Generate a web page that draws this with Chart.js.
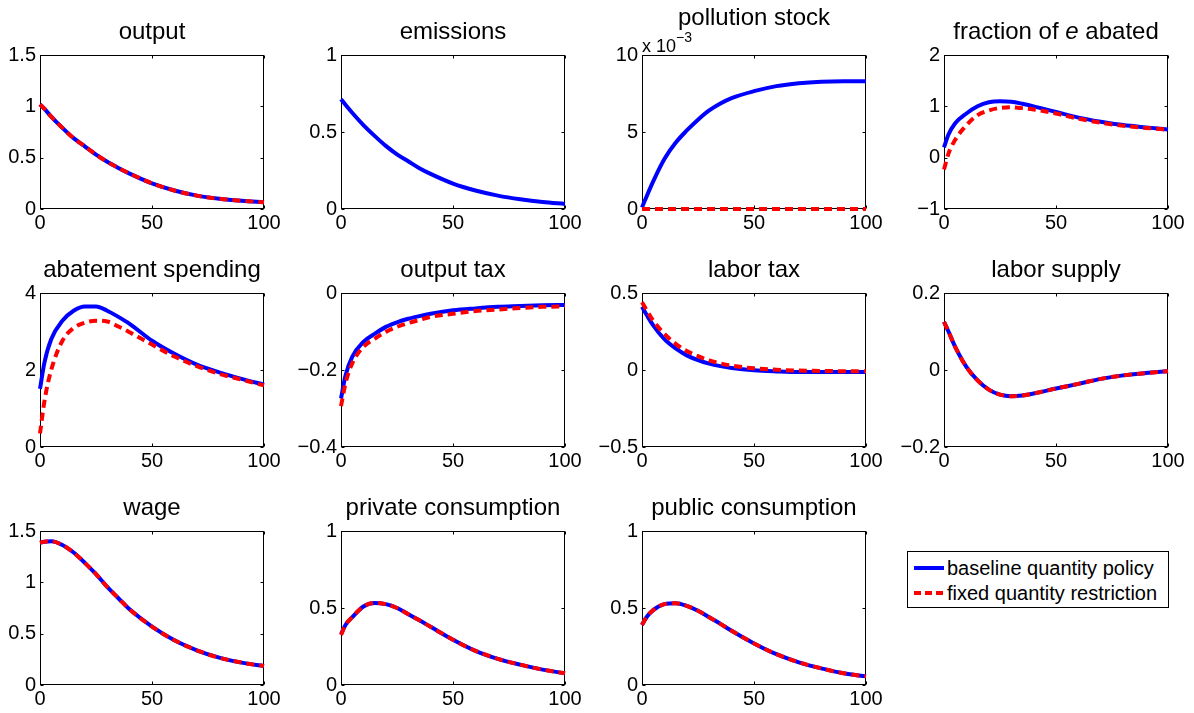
<!DOCTYPE html>
<html lang="en">
<head>
<meta charset="UTF-8">
<title>Quantity policy responses</title>
<script src="https://cdn.jsdelivr.net/npm/chart.js@4"></script>
<style>
  body { margin: 0; background: #fff; font-family: "Liberation Sans", Arial, sans-serif; }
  #fig { position: relative; width: 1194px; height: 713px; overflow: hidden; background: #fff; }
  .panel { position: absolute; }
  .ttl { position: absolute; font-size: 24px; line-height: 24px; text-align: center; color: #000; white-space: nowrap; }
  .mult { position: absolute; font-size: 18px; line-height: 18px; color: #000; white-space: nowrap; }
  .mult sup { font-size: 14px; position: relative; top: -3px; }
  #legend { position: absolute; left: 907px; top: 551px; width: 260px; height: 55px; border: 1px solid #000; background: #fff; }
  .lrow { position: absolute; left: 0; height: 24px; font-size: 20px; line-height: 24px; color: #000; white-space: nowrap; }
  .lrow .smp { position: absolute; left: 6px; top: 10px; width: 30px; height: 4px; }
  .lrow span { position: absolute; left: 39px; top: 0; }
</style>
</head>
<body>
<div id="fig">
  <div id="legend">
    <div class="lrow" style="top:4px"><div class="smp" style="background:#0000ff"></div><span>baseline quantity policy</span></div>
    <div class="lrow" style="top:29px"><div class="smp" style="background:repeating-linear-gradient(90deg,#ff0000 0 7px,transparent 7px 11px)"></div><span>fixed quantity restriction</span></div>
  </div>
</div>
<script>
// time axis (periods)
const periods = [0, 2, 5, 10, 15, 20, 25, 30, 35, 40, 50, 60, 70, 80, 90, 100];

// baseline quantity policy (blue) / fixed quantity restriction (red)
const outputBase      = [1.02, 0.975, 0.90, 0.79, 0.69, 0.61, 0.53, 0.46, 0.40, 0.345, 0.25, 0.18, 0.13, 0.10, 0.08, 0.065];
const outputFixed     = [1.02, 0.975, 0.90, 0.79, 0.69, 0.61, 0.53, 0.46, 0.40, 0.345, 0.25, 0.18, 0.13, 0.10, 0.08, 0.065];
const emissionsBase   = [0.713, 0.677, 0.625, 0.545, 0.475, 0.41, 0.355, 0.31, 0.265, 0.228, 0.165, 0.12, 0.087, 0.063, 0.045, 0.033];
const pollutionBase   = [0.0001, 0.0008, 0.0018, 0.00325, 0.0043, 0.0051, 0.0058, 0.0064, 0.00685, 0.0072, 0.00765, 0.00798, 0.00817, 0.00827, 0.0083, 0.0083];
const pollutionFixed  = [0, 0, 0, 0, 0, 0, 0, 0, 0, 0, 0, 0, 0, 0, 0, 0];
const abatedBase      = [0.2, 0.45, 0.67, 0.86, 1.0, 1.08, 1.1, 1.09, 1.05, 1.0, 0.89, 0.78, 0.70, 0.635, 0.59, 0.55];
const abatedFixed     = [-0.23, 0.08, 0.35, 0.63, 0.83, 0.92, 0.97, 0.98, 0.965, 0.94, 0.86, 0.76, 0.68, 0.62, 0.58, 0.545];
const spendingBase    = [1.51, 2.2, 2.8, 3.28, 3.54, 3.65, 3.65, 3.54, 3.38, 3.2, 2.76, 2.42, 2.14, 1.94, 1.77, 1.62];
const spendingFixed   = [0.35, 1.2, 2.0, 2.76, 3.09, 3.23, 3.28, 3.26, 3.13, 2.98, 2.66, 2.35, 2.1, 1.9, 1.75, 1.6];
const outTaxBase      = [-0.274, -0.215, -0.166, -0.127, -0.106, -0.088, -0.076, -0.067, -0.06, -0.054, -0.045, -0.04, -0.036, -0.034, -0.032, -0.031];
const outTaxFixed     = [-0.294, -0.235, -0.183, -0.14, -0.119, -0.101, -0.088, -0.078, -0.07, -0.062, -0.054, -0.047, -0.043, -0.039, -0.036, -0.035];
const labTaxBase      = [0.41, 0.36, 0.29, 0.2, 0.14, 0.095, 0.064, 0.041, 0.025, 0.013, -0.002, -0.009, -0.013, -0.013, -0.013, -0.013];
const labTaxFixed     = [0.44, 0.39, 0.32, 0.235, 0.17, 0.123, 0.09, 0.063, 0.043, 0.028, 0.011, 0.002, -0.004, -0.006, -0.008, -0.008];
const laborBase       = [0.125, 0.1, 0.06, 0.008, -0.027, -0.051, -0.064, -0.068, -0.066, -0.061, -0.048, -0.036, -0.023, -0.014, -0.008, -0.003];
const laborFixed      = [0.125, 0.1, 0.06, 0.008, -0.027, -0.051, -0.064, -0.068, -0.066, -0.061, -0.048, -0.036, -0.023, -0.014, -0.008, -0.003];
const wageBase        = [1.386, 1.396, 1.40, 1.364, 1.29, 1.19, 1.08, 0.955, 0.845, 0.737, 0.568, 0.435, 0.338, 0.266, 0.218, 0.185];
const wageFixed       = [1.386, 1.396, 1.40, 1.364, 1.29, 1.19, 1.08, 0.955, 0.845, 0.737, 0.568, 0.435, 0.338, 0.266, 0.218, 0.185];
const privBase        = [0.33, 0.39, 0.44, 0.51, 0.533, 0.525, 0.5, 0.46, 0.42, 0.378, 0.294, 0.222, 0.17, 0.132, 0.1, 0.076];
const privFixed       = [0.325, 0.39, 0.44, 0.51, 0.533, 0.525, 0.5, 0.46, 0.42, 0.378, 0.294, 0.222, 0.17, 0.132, 0.1, 0.076];
const pubBase         = [0.39, 0.44, 0.486, 0.525, 0.531, 0.514, 0.482, 0.44, 0.397, 0.352, 0.27, 0.2, 0.147, 0.108, 0.076, 0.056];
const pubFixed        = [0.39, 0.44, 0.486, 0.525, 0.531, 0.514, 0.482, 0.44, 0.397, 0.352, 0.27, 0.2, 0.147, 0.108, 0.076, 0.056];

// subplot grid
const colX = [40, 341, 642, 944];
const rowY = [54, 292, 530];
const W = 224, H = 155;

const panels = [
  { title: 'output', r: 0, c: 0, base: outputBase, fixed: outputFixed, min: 0, max: 1.5, step: 0.5 },
  { title: 'emissions', r: 0, c: 1, base: emissionsBase, fixed: null, min: 0, max: 1, step: 0.5 },
  { title: 'pollution stock', r: 0, c: 2, base: pollutionBase, fixed: pollutionFixed, min: 0, max: 0.01, step: 0.005, scale: 1000 },
  { title: 'fraction of <i>e</i> abated', r: 0, c: 3, base: abatedBase, fixed: abatedFixed, min: -1, max: 2, step: 1 },
  { title: 'abatement spending', r: 1, c: 0, base: spendingBase, fixed: spendingFixed, min: 0, max: 4, step: 2 },
  { title: 'output tax', r: 1, c: 1, base: outTaxBase, fixed: outTaxFixed, min: -0.4, max: 0, step: 0.2 },
  { title: 'labor tax', r: 1, c: 2, base: labTaxBase, fixed: labTaxFixed, min: -0.5, max: 0.5, step: 0.5 },
  { title: 'labor supply', r: 1, c: 3, base: laborBase, fixed: laborFixed, min: -0.2, max: 0.2, step: 0.2 },
  { title: 'wage', r: 2, c: 0, base: wageBase, fixed: wageFixed, min: 0, max: 1.5, step: 0.5 },
  { title: 'private consumption', r: 2, c: 1, base: privBase, fixed: privFixed, min: 0, max: 1, step: 0.5 },
  { title: 'public consumption', r: 2, c: 2, base: pubBase, fixed: pubFixed, min: 0, max: 1, step: 0.5 }
];

const FONT = '"Liberation Sans", Arial, sans-serif';
const PADL = 50, PADT = 15, PADR = 25, PADB = 30;

function fmt(v) {
  const r = Math.round(v * 1000) / 1000;
  return r < 0 ? '\u2212' + String(-r) : String(r);
}

// matlab style box with inward ticks
const boxPlugin = {
  id: 'box',
  beforeDatasetsDraw(chart) {
    const { ctx, chartArea: a, scales } = chart;
    const l = Math.round(a.left) + 0.5, t = Math.round(a.top) + 0.5;
    const rr = Math.round(a.right) - 0.5, b = Math.round(a.bottom) - 0.5;
    ctx.save();
    ctx.strokeStyle = '#000';
    ctx.lineWidth = 1;
    ctx.strokeRect(l, t, rr - l, b - t);
    ctx.beginPath();
    scales.x.ticks.forEach(tk => {
      const px = Math.round(scales.x.getPixelForValue(tk.value)) + 0.5;
      ctx.moveTo(px, b); ctx.lineTo(px, b - 3);
      ctx.moveTo(px, t); ctx.lineTo(px, t + 3);
    });
    scales.y.ticks.forEach(tk => {
      const py = Math.round(scales.y.getPixelForValue(tk.value)) + 0.5;
      ctx.moveTo(l, py); ctx.lineTo(l + 3, py);
      ctx.moveTo(rr, py); ctx.lineTo(rr - 3, py);
    });
    ctx.stroke();
    ctx.restore();
  }
};

const fig = document.getElementById('fig');

panels.forEach(p => {
  const px = colX[p.c], py = rowY[p.r];
  const canvas = document.createElement('canvas');
  canvas.className = 'panel';
  canvas.width = W + PADL + PADR;
  canvas.height = H + PADT + PADB;
  canvas.style.left = (px - PADL) + 'px';
  canvas.style.top = (py - PADT) + 'px';
  fig.appendChild(canvas);

  const ttl = document.createElement('div');
  ttl.className = 'ttl';
  ttl.innerHTML = p.title;
  ttl.style.left = (px - 40) + 'px';
  ttl.style.width = (W + 80) + 'px';
  ttl.style.top = (py - (p.scale ? 49 : 35)) + 'px';
  fig.appendChild(ttl);

  if (p.scale) {
    const m = document.createElement('div');
    m.className = 'mult';
    m.innerHTML = 'x 10<sup>\u22123</sup>';
    m.style.left = px + 'px';
    m.style.top = (py - 23) + 'px';
    fig.appendChild(m);
  }

  // blue underneath, red dashed on top (lower order draws last)
  const datasets = [{
    data: periods.map((x, i) => ({ x: x, y: p.base[i] })),
    borderColor: '#0000ff', borderWidth: 4, pointRadius: 0, order: 1,
    cubicInterpolationMode: 'monotone', clip: false
  }];
  if (p.fixed) {
    datasets.push({
      data: periods.map((x, i) => ({ x: x, y: p.fixed[i] })),
      borderColor: '#ff0000', borderWidth: 4, borderDash: [8, 5], pointRadius: 0, order: 0,
      cubicInterpolationMode: 'monotone', clip: false
    });
  }

  new Chart(canvas, {
    type: 'line',
    data: { datasets },
    options: {
      responsive: false,
      animation: false,
      layout: { padding: { left: 0, top: PADT, right: PADR, bottom: 0 } },
      plugins: { legend: { display: false }, tooltip: { enabled: false } },
      scales: {
        x: {
          type: 'linear', min: 0, max: 100,
          grid: { display: false, drawTicks: false },
          border: { display: false },
          ticks: { stepSize: 50, padding: 2, color: '#000', font: { family: FONT, size: 20 }, maxRotation: 0,
                   callback: v => fmt(v) },
          afterFit: s => { s.height = PADB; }
        },
        y: {
          min: p.min, max: p.max,
          grid: { display: false, drawTicks: false },
          border: { display: false },
          ticks: { stepSize: p.step, padding: 4, color: '#000', font: { family: FONT, size: 20 },
                   callback: v => fmt(p.scale ? v * p.scale : v) },
          afterFit: s => { s.width = PADL; }
        }
      }
    },
    plugins: [boxPlugin]
  });
});
</script>
</body>
</html>
